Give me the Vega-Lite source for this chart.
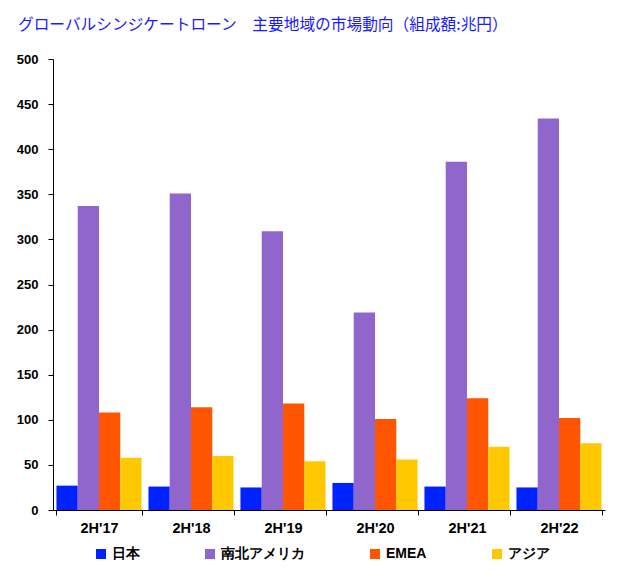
{
  "$schema": "https://vega.github.io/schema/vega-lite/v6.json",
  "autosize": "none",
  "width": 552,
  "height": 451,
  "padding": {"left": 53, "top": 59, "right": 25, "bottom": 70},
  "background": "white",
  "title": {
    "text": "グローバルシンジケートローン　主要地域の市場動向（組成額:兆円）",
    "anchor": "start",
    "frame": "group",
    "dx": -35,
    "offset": 19,
    "color": "#1a1aff",
    "font": "Noto Sans CJK JP",
    "fontSize": 15.7,
    "fontWeight": "normal"
  },
  "data": {
    "values": [
      {"period": "2H'17", "region": "日本", "value": 27},
      {"period": "2H'17", "region": "南北アメリカ", "value": 337},
      {"period": "2H'17", "region": "EMEA", "value": 108},
      {"period": "2H'17", "region": "アジア", "value": 58},
      {"period": "2H'18", "region": "日本", "value": 26},
      {"period": "2H'18", "region": "南北アメリカ", "value": 351},
      {"period": "2H'18", "region": "EMEA", "value": 114},
      {"period": "2H'18", "region": "アジア", "value": 60},
      {"period": "2H'19", "region": "日本", "value": 25},
      {"period": "2H'19", "region": "南北アメリカ", "value": 309},
      {"period": "2H'19", "region": "EMEA", "value": 118},
      {"period": "2H'19", "region": "アジア", "value": 54},
      {"period": "2H'20", "region": "日本", "value": 30},
      {"period": "2H'20", "region": "南北アメリカ", "value": 219},
      {"period": "2H'20", "region": "EMEA", "value": 101},
      {"period": "2H'20", "region": "アジア", "value": 56},
      {"period": "2H'21", "region": "日本", "value": 26},
      {"period": "2H'21", "region": "南北アメリカ", "value": 386},
      {"period": "2H'21", "region": "EMEA", "value": 124},
      {"period": "2H'21", "region": "アジア", "value": 70},
      {"period": "2H'22", "region": "日本", "value": 25},
      {"period": "2H'22", "region": "南北アメリカ", "value": 434},
      {"period": "2H'22", "region": "EMEA", "value": 102},
      {"period": "2H'22", "region": "アジア", "value": 74}
    ]
  },
  "mark": {"type": "bar"},
  "encoding": {
    "x": {
      "field": "period",
      "type": "nominal",
      "sort": null,
      "scale": {"paddingInner": 0.075, "paddingOuter": 0.0375},
      "axis": {
        "title": null,
        "labelAngle": 0,
        "tickBand": "extent",
        "labelFont": "Liberation Sans",
        "labelFontSize": 14.5,
        "labelFontWeight": "bold",
        "labelColor": "black",
        "labelPadding": 6,
        "domainColor": "black",
        "tickColor": "black",
        "tickSize": 5,
        "grid": false
      }
    },
    "xOffset": {
      "field": "region",
      "type": "nominal",
      "sort": ["日本", "南北アメリカ", "EMEA", "アジア"],
      "scale": {"paddingInner": 0, "paddingOuter": 0}
    },
    "y": {
      "field": "value",
      "type": "quantitative",
      "scale": {"domain": [0, 500]},
      "axis": {
        "title": null,
        "values": [0, 50, 100, 150, 200, 250, 300, 350, 400, 450, 500],
        "labelFont": "Liberation Sans",
        "labelFontSize": 13,
        "labelFontWeight": "bold",
        "labelColor": "black",
        "labelPadding": 10,
        "domainColor": "black",
        "tickColor": "black",
        "tickSize": 5,
        "grid": false
      }
    },
    "color": {
      "field": "region",
      "type": "nominal",
      "sort": ["日本", "南北アメリカ", "EMEA", "アジア"],
      "scale": {
        "domain": ["日本", "南北アメリカ", "EMEA", "アジア"],
        "range": ["#0022ff", "#9066cc", "#ff5500", "#ffc800"]
      },
      "legend": {
        "title": null,
        "orient": "bottom",
        "direction": "horizontal",
        "symbolType": "square",
        "symbolSize": 100,
        "symbolStrokeWidth": 0,
        "labelFont": "Liberation Sans",
        "labelFontSize": 14,
        "labelFontWeight": "bold",
        "labelColor": "black",
        "labelOffset": 4,
        "columnPadding": 63,
        "padding": 41,
        "offset": -29
      }
    }
  },
  "config": {
    "view": {"stroke": null}
  }
}
